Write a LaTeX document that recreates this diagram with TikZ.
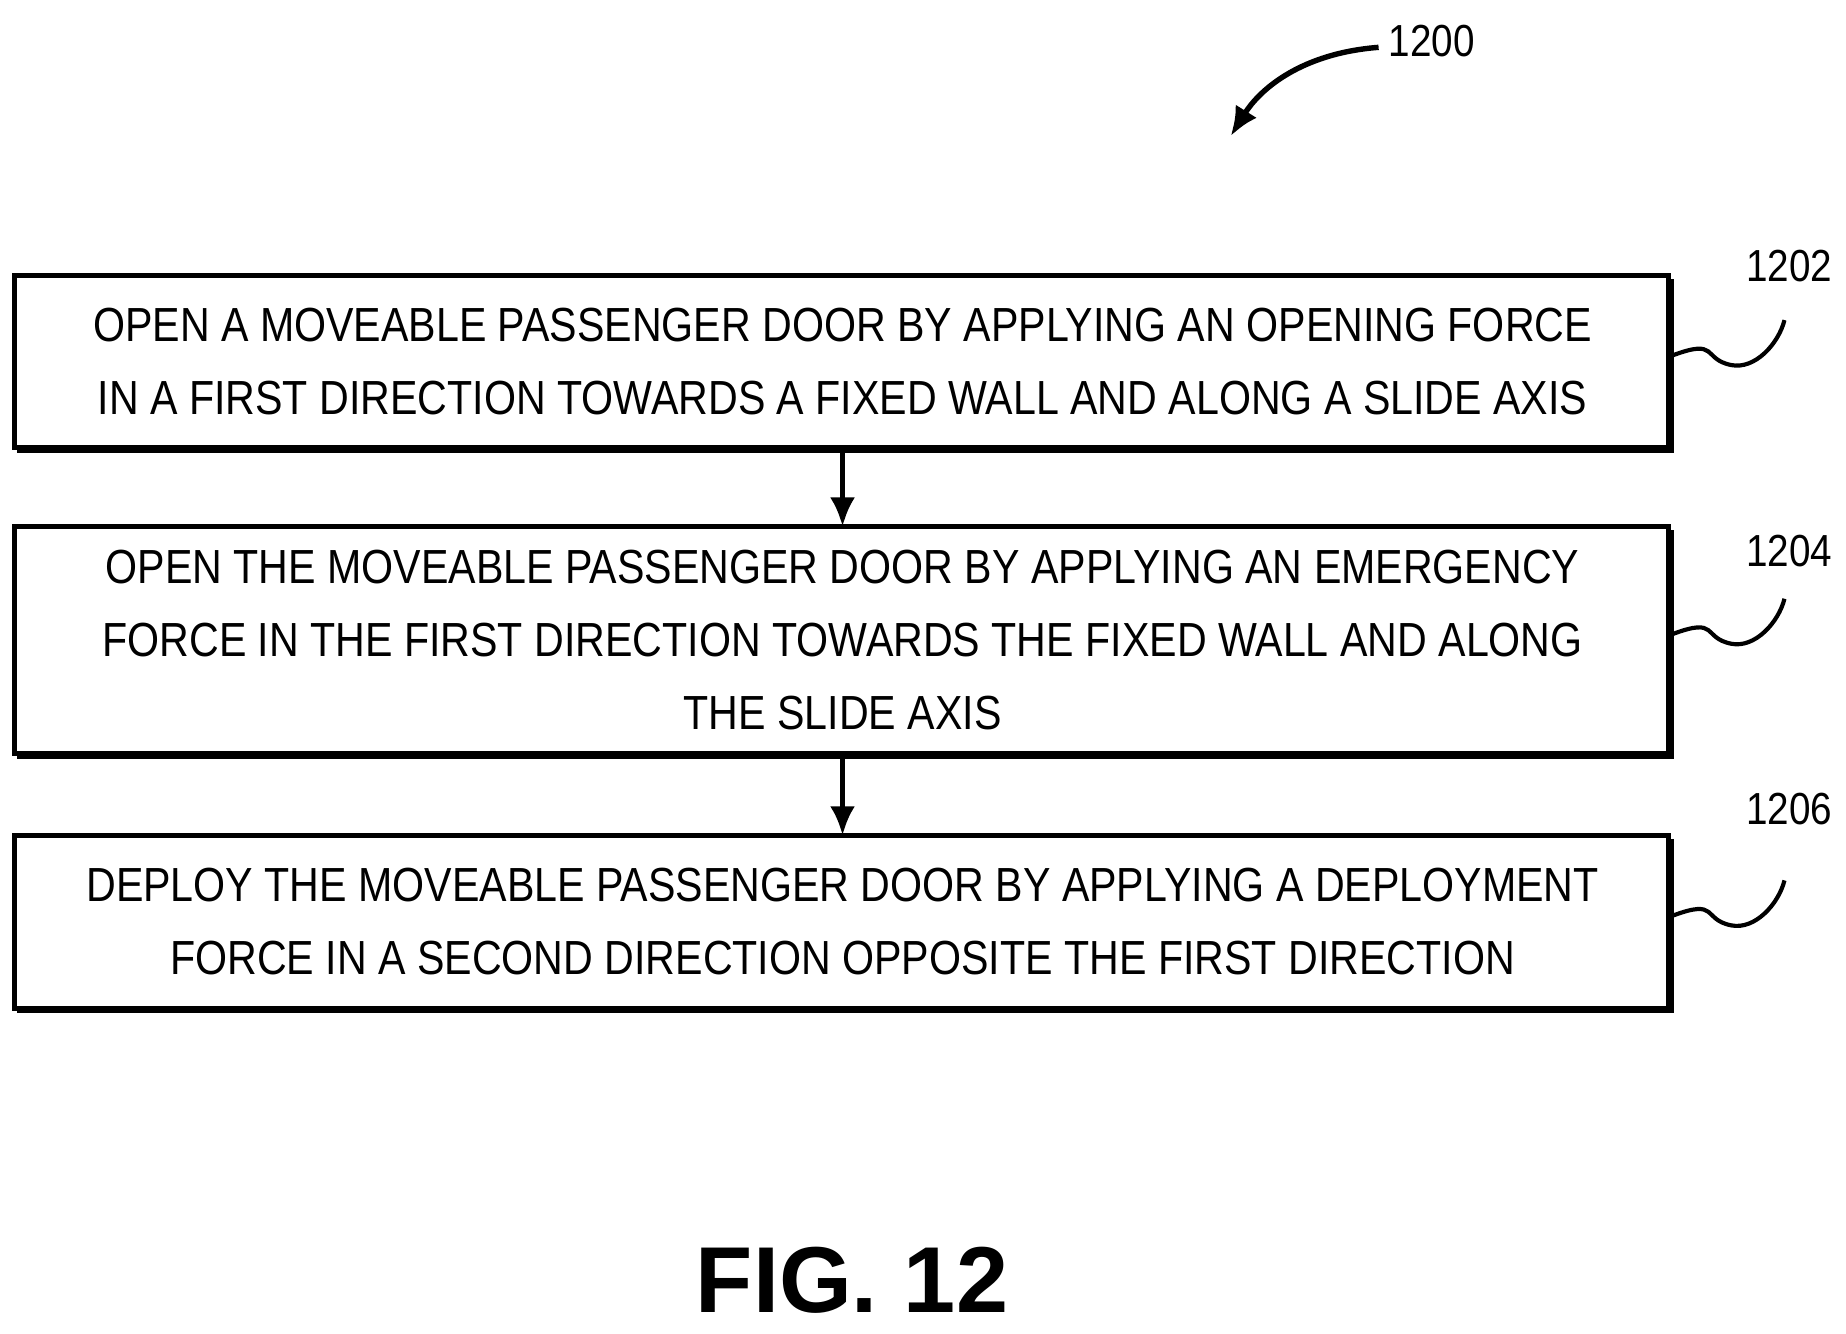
\documentclass[tikz,border=0pt]{standalone}
\usepackage{fontspec}
\setmainfont{Liberation Sans}[FakeStretch=0.86]
\newfontfamily\figfont{Liberation Sans}
\usetikzlibrary{arrows.meta}
\begin{document}
\begin{tikzpicture}[x=0.01cm,y=-0.01cm,
  lbl/.style={font=\fontsize{11.5}{17.5}\selectfont},
  num/.style={font=\fontsize{10.8}{13}\selectfont},
  arr/.style={-{Latex[length=7pt,width=6pt]},line width=1.2pt}]
\useasboundingbox (0,0) rectangle (1560,1127);
\foreach \n/\t/\b in {b1/233/378,b2/445/637,b3/706/852}{
  \draw[line width=1.2pt] (12,\t) rectangle (1410,\b);
  \draw[line width=1.4pt] (1412,\t+3) -- (1412,\b+2) -- (14,\b+2);
  \coordinate (\n) at (712,{(\t+\b)/2});
  \coordinate (\n t) at (712,\t);
  \coordinate (\n b) at (712,\b+2);
  \coordinate (\n r) at (1413,{(\t+\b)/2-5});
}
\node[lbl,align=center] (t1) at (b1) {OPEN A MOVEABLE PASSENGER DOOR BY APPLYING AN OPENING FORCE\\IN A FIRST DIRECTION TOWARDS A FIXED WALL AND ALONG A SLIDE AXIS};
\node[lbl,align=center] (t2) at (b2) {OPEN THE MOVEABLE PASSENGER DOOR BY APPLYING AN EMERGENCY\\FORCE IN THE FIRST DIRECTION TOWARDS THE FIXED WALL AND ALONG\\THE SLIDE AXIS};
\node[lbl,align=center] (t3) at (b3) {DEPLOY THE MOVEABLE PASSENGER DOOR BY APPLYING A DEPLOYMENT\\FORCE IN A SECOND DIRECTION OPPOSITE THE FIRST DIRECTION};
\draw[arr] (b1b) -- (b2t);
\draw[arr] (b2b) -- (b3t);
\foreach \n/\l/\y in {b1/1202/225,b2/1204/466,b3/1206/684}{
  \node[num] (l\n) at (1512,\y) {\l};
  \draw[line width=1pt] (\n r) .. controls ++(40,-15) and ++(-25,-5) .. ++(50,8) .. controls ++(20,4) and ++(-5,20) .. ++(45,-38);
}
\node[num] (l0) at (1210,35) {1200};
\coordinate (a0) at (1040,115);
\draw[arr,line width=1.3pt] (1165,40) .. controls (1100,45) and (1065,75) .. (a0);
\node[font=\figfont\fontsize{22.5}{27}\selectfont\bfseries] (fig) at (720,1082) {FIG. 12};
\end{tikzpicture}
\end{document}
